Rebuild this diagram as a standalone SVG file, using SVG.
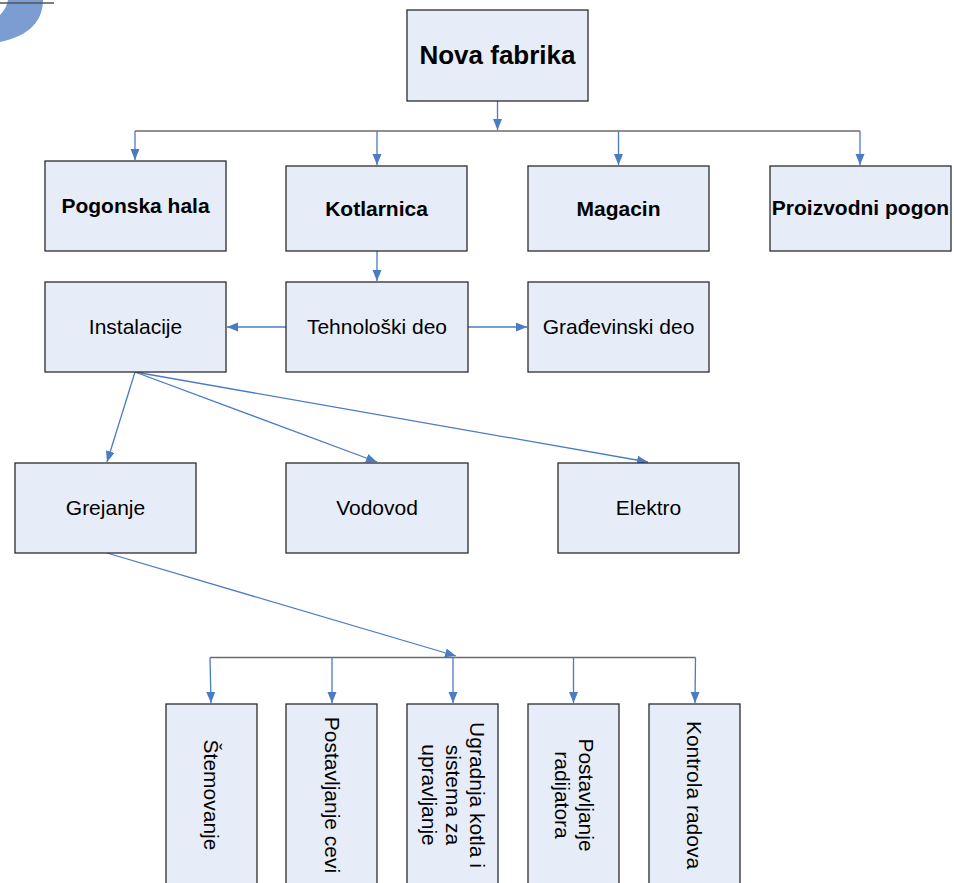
<svg xmlns="http://www.w3.org/2000/svg" width="954" height="883" viewBox="0 0 954 883">
<style>
.box{fill:#E7EDF8;stroke:#2b2b2b;stroke-width:1.3}
.b{font-family:"Liberation Sans",Arial,sans-serif;font-weight:bold;fill:#000;text-anchor:middle}
.r{font-family:"Liberation Sans",Arial,sans-serif;fill:#000;text-anchor:middle;font-size:21px}
.c{stroke:#4A7CC4;stroke-width:1.3;fill:none}
.bus{stroke:#6b6b6b;stroke-width:1.6;fill:none}
</style>
<defs>
<marker id="ah" markerUnits="userSpaceOnUse" markerWidth="12" markerHeight="10" refX="11" refY="4.5" orient="auto">
<path d="M0,0 L11,4.5 L0,9 z" fill="#4A7CC4"/>
</marker>
</defs>
<g id="decor">
<path d="M8,0 L43,0 C43,20 30,36 0,42 L0,15 C4,11 7,6 8,0 z" fill="#7C9DD1"/>
<line x1="0" y1="3" x2="54" y2="3" stroke="#555" stroke-width="1.5"/>
</g>
<g id="connectors">
<line class="c" x1="497.5" y1="101" x2="497.5" y2="130" marker-end="url(#ah)"/>
<polyline class="bus" points="135,131 860,131"/>
<line class="c" x1="135" y1="131" x2="135" y2="160" marker-end="url(#ah)"/>
<line class="c" x1="377" y1="131" x2="377" y2="165" marker-end="url(#ah)"/>
<line class="c" x1="618.5" y1="131" x2="618.5" y2="165" marker-end="url(#ah)"/>
<line class="c" x1="860" y1="131" x2="860" y2="165" marker-end="url(#ah)"/>
<line class="c" x1="377" y1="251" x2="377" y2="281" marker-end="url(#ah)"/>
<line class="c" x1="286" y1="327" x2="227" y2="327" marker-end="url(#ah)"/>
<line class="c" x1="468" y1="327" x2="527" y2="327" marker-end="url(#ah)"/>
<line class="c" x1="135" y1="372" x2="107" y2="462" marker-end="url(#ah)"/>
<line class="c" x1="135" y1="372" x2="377" y2="462" marker-end="url(#ah)"/>
<line class="c" x1="135" y1="372" x2="648" y2="462" marker-end="url(#ah)"/>
<line class="c" x1="107" y1="553" x2="456" y2="656" marker-end="url(#ah)"/>
<polyline class="bus" points="210,657.5 695.5,657.5"/>
<line class="c" x1="210" y1="657.5" x2="211" y2="703" marker-end="url(#ah)"/>
<line class="c" x1="332" y1="657.5" x2="332" y2="703" marker-end="url(#ah)"/>
<line class="c" x1="453" y1="657.5" x2="453" y2="703" marker-end="url(#ah)"/>
<line class="c" x1="573.5" y1="657.5" x2="573.5" y2="703" marker-end="url(#ah)"/>
<line class="c" x1="695.5" y1="657.5" x2="695" y2="703" marker-end="url(#ah)"/>
</g>
<g id="nova-fabrika"><rect class="box" x="407" y="10" width="181" height="91"/><text class="b" x="497.5" y="64" font-size="26">Nova fabrika</text></g>
<g id="pogonska-hala"><rect class="box" x="45" y="161" width="181" height="90"/><text class="b" x="135.5" y="213" font-size="21">Pogonska hala</text></g>
<g id="kotlarnica"><rect class="box" x="286" y="166" width="181" height="85"/><text class="b" x="376.5" y="216" font-size="21">Kotlarnica</text></g>
<g id="magacin"><rect class="box" x="528" y="166" width="181" height="85"/><text class="b" x="618.5" y="216" font-size="21">Magacin</text></g>
<g id="proizvodni-pogon"><rect class="box" x="770" y="166" width="181" height="85"/><text class="b" x="860.5" y="215" font-size="21">Proizvodni pogon</text></g>
<g id="instalacije"><rect class="box" x="45" y="282" width="181" height="90"/><text class="r" x="135.5" y="334">Instalacije</text></g>
<g id="tehnoloski-deo"><rect class="box" x="286" y="282" width="182" height="90"/><text class="r" x="377" y="334">Tehnološki deo</text></g>
<g id="gradjevinski-deo"><rect class="box" x="528" y="282" width="181" height="90"/><text class="r" x="618.5" y="334">Građevinski deo</text></g>
<g id="grejanje"><rect class="box" x="15" y="463" width="181" height="90"/><text class="r" x="105.5" y="515">Grejanje</text></g>
<g id="vodovod"><rect class="box" x="286" y="463" width="182" height="90"/><text class="r" x="377" y="515">Vodovod</text></g>
<g id="elektro"><rect class="box" x="558" y="463" width="181" height="90"/><text class="r" x="648.5" y="515">Elektro</text></g>
<g id="stemovanje"><rect class="box" x="166" y="704" width="91" height="182"/><text class="r" transform="translate(204,795) rotate(90)">Štemovanje</text></g>
<g id="postavljanje-cevi"><rect class="box" x="286" y="704" width="91" height="182"/><text class="r" transform="translate(325,795) rotate(90)">Postavljanje cevi</text></g>
<g id="ugradnja-kotla"><rect class="box" x="407" y="704" width="91" height="182"/><text class="r" transform="translate(470,795) rotate(90)">Ugradnja kotla i</text><text class="r" transform="translate(446,795) rotate(90)">sistema za</text><text class="r" transform="translate(422,795) rotate(90)">upravljanje</text></g>
<g id="postavljanje-radijatora"><rect class="box" x="528" y="704" width="91" height="182"/><text class="r" transform="translate(579,795) rotate(90)">Postavljanje</text><text class="r" transform="translate(555,795) rotate(90)">radijatora</text></g>
<g id="kontrola-radova"><rect class="box" x="649" y="704" width="91" height="182"/><text class="r" transform="translate(687,795) rotate(90)">Kontrola radova</text></g>
</svg>
